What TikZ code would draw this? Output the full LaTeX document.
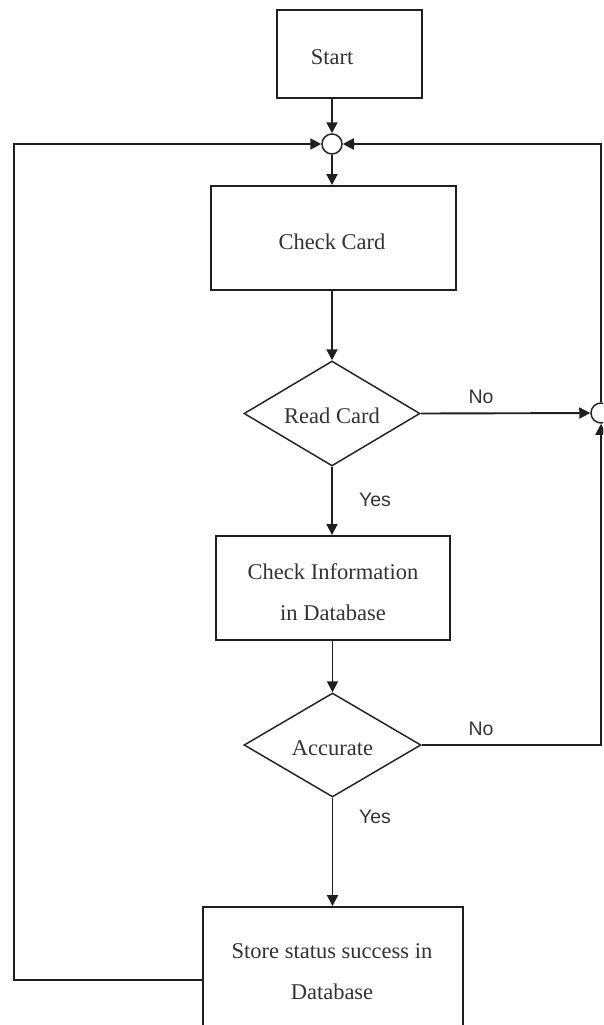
\documentclass[tikz,border=0pt]{standalone}
\usepackage{fontspec}
\setmainfont{Liberation Serif}
\newfontfamily\labelfont{Liberation Sans}
\usetikzlibrary{shapes.geometric,arrows.meta}
\begin{document}
\begin{tikzpicture}[x=1pt,y=-1pt,
  line width=1.9pt,
  stepbox/.style={draw=black!88, fill=white, rectangle, inner sep=0pt},
  decision/.style={draw=black!85, fill=white, diamond, inner sep=0pt, aspect=1.68, line width=1.5pt},
  junction/.style={draw=black!85, fill=white, circle, minimum size=20pt, inner sep=0pt, line width=1.5pt},
  boxtext/.style={text=black!80, align=center, inner sep=0pt, font=\fontsize{22.5}{41}\selectfont},
  branchlabel/.style={text=black!80, inner sep=0pt, font=\labelfont\fontsize{19.5}{22}\selectfont},
  arr/.style={draw=black!88, -{Triangle[length=11pt,width=11pt]}}
]
\useasboundingbox (0,0) rectangle (603,1025);
\clip (0,0) rectangle (603,1025);

% boxes and decisions
\node[stepbox, minimum width=145pt, minimum height=88pt] (start) at (349.5,54) {};
\node[boxtext] (starttxt) at (332,57) {Start};

\node[junction] (jtop) at (332,144) {};

\node[stepbox, minimum width=245pt, minimum height=104pt] (check) at (333.5,238) {};
\node[boxtext] (checktxt) at (332,242) {Check Card};

\node[decision, minimum width=176pt, minimum height=105pt] (read) at (332,413.5) {};
\node[boxtext] (readtxt) at (332,416) {Read Card};

\node[stepbox, minimum width=234pt, minimum height=104pt] (info) at (333,588) {};
\node[boxtext] (infotxt) at (333,592) {Check Information\\in Database};

\node[decision, minimum width=177pt, minimum height=104pt] (accur) at (332.5,745) {};
\node[boxtext] (accurtxt) at (332.5,748) {Accurate};

\node[stepbox, minimum width=260pt, minimum height=146pt] (store) at (333,980) {};
\node[boxtext] (storetxt) at (332,972) {Store status success in\\Database};

\node[junction] (jright) at (601,413) {};

% corner points of the return paths
\coordinate (lc) at (14,980);
\coordinate (lt) at (14,144);
\coordinate (ra) at (601,745);
\coordinate (rt) at (601,144);

% main flow
\draw[arr] (start.south -| jtop) -- (jtop);
\draw[arr] (jtop) -- (jtop |- check.north);
\draw[arr] (check.south -| read) -- (read.north);
\draw[arr] (read.south) -- (read.south |- info.north);
\draw[arr] (info.south -| accur) -- (accur.north);
\draw[arr] (accur.south) -- (accur.south |- store.north);

% return paths
\draw[arr] (store.west |- lc) -- (lc) -- (lt) -- (jtop);
\draw[arr] (read.east) -- (jright);
\draw[arr] (accur.east) -- (ra) -- (jright);
\draw[arr] (jright) -- (rt) -- (jtop);

% branch labels
\node[branchlabel] (no1) at (481,397) {No};
\node[branchlabel] (no2) at (481,729) {No};
\node[branchlabel] (yes1) at (375,500) {Yes};
\node[branchlabel] (yes2) at (375,817) {Yes};
\end{tikzpicture}
\end{document}
